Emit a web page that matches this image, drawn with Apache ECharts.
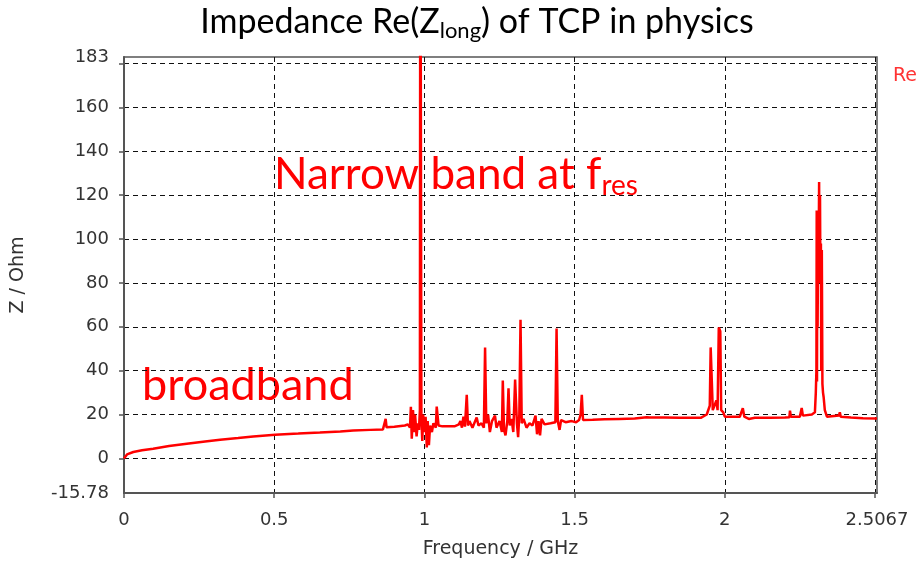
<!DOCTYPE html>
<html>
<head>
<meta charset="utf-8">
<title>Impedance Re(Zlong) of TCP in physics</title>
<script src="https://cdn.jsdelivr.net/npm/echarts@6.0.0/dist/echarts.min.js"></script>
<style>
  html, body { margin: 0; padding: 0; background: #fff; }
  #chart { width: 923px; height: 567px; }
</style>
</head>
<body>
<div id="chart"></div>
<script>
// ── Data ─────────────────────────────────────────────────────────────────────
// frequency in GHz, Re(Z) in Ohm
const freqGHz = [
  0, 0.01, 0.031, 0.06, 0.097, 0.15, 0.209, 0.27, 0.32, 0.38, 0.43, 0.503,
  0.58, 0.652, 0.72, 0.763, 0.82, 0.862, 0.868, 0.871, 0.874, 0.90, 0.935,
  0.945, 0.952, 0.955, 0.958, 0.962, 0.966, 0.969, 0.974, 0.978, 0.982,
  0.985, 0.9865, 0.9885, 0.990, 0.993, 0.996, 1.000, 1.004, 1.008, 1.011,
  1.015, 1.019, 1.025, 1.030, 1.038, 1.041, 1.045, 1.047, 1.06, 1.10,
  1.115, 1.12, 1.125, 1.13, 1.135, 1.141, 1.145, 1.15, 1.16, 1.174, 1.18,
  1.19, 1.198, 1.202, 1.206, 1.212, 1.218, 1.225, 1.235, 1.24, 1.25, 1.258,
  1.261, 1.265, 1.27, 1.276, 1.28, 1.284, 1.29, 1.296, 1.302, 1.308, 1.312,
  1.316, 1.32, 1.324, 1.33, 1.34, 1.35, 1.36, 1.37, 1.375, 1.38, 1.385,
  1.39, 1.40, 1.42, 1.436, 1.44, 1.444, 1.45, 1.455, 1.47, 1.49, 1.505,
  1.515, 1.52, 1.524, 1.528, 1.56, 1.60, 1.65, 1.70, 1.74, 1.745, 1.75,
  1.80, 1.85, 1.92, 1.94, 1.95, 1.953, 1.957, 1.96, 1.965, 1.972, 1.976,
  1.980, 1.985, 1.988, 1.995, 2.0, 2.02, 2.05, 2.06, 2.065, 2.08, 2.10,
  2.15, 2.20, 2.215, 2.217, 2.22, 2.25, 2.256, 2.26, 2.29, 2.30, 2.303,
  2.305, 2.306, 2.307, 2.308, 2.309, 2.311, 2.312, 2.314, 2.315, 2.317,
  2.318, 2.320, 2.321, 2.323, 2.325, 2.327,
  2.329, 2.333, 2.34, 2.38, 2.383, 2.386, 2.42, 2.46, 2.5067
];
const reZ = [
  0, 1.8, 2.9, 3.7, 4.4, 5.6, 6.7, 7.7, 8.5, 9.3, 10, 10.8,
  11.3, 11.8, 12.3, 12.7, 13.0, 13.2, 13.3, 18, 14.2, 14.4, 15,
  15.5, 14, 23.5, 9, 22, 12, 20, 10, 16, 13,
  22, 300, 300, 18, 8, 20, 12, 19, 5, 17,
  6, 15, 12, 16, 14, 23.6, 23, 15, 14.6, 14.6,
  15.5, 17, 14, 19, 14.5, 29, 15, 17, 14, 18.6, 15,
  16, 14, 50.6, 16, 20, 12, 17, 19.5, 14, 17, 12,
  35.5, 13, 10.5, 17, 32, 15, 18, 12, 36, 16, 9.7,
  20, 63.2, 16, 18, 14, 16, 15, 19.5, 11, 17, 10.5,
  18, 15.5, 16, 16.5, 59.2, 17, 13, 17.5, 16.5, 17, 16.5,
  17.5, 20, 29, 17.5, 17.6, 17.8, 18, 18.2, 18.8, 19.5, 18.6,
  18.6, 18.5, 18.5, 20, 24, 50.6, 50, 22, 21.8, 26.4, 22,
  59.7, 58, 22, 21, 19, 19, 19, 22.9, 19, 18, 18.5,
  18.5, 18.6, 18.7, 21.8, 19, 19, 23, 19.5, 20, 21, 30,
  40, 113, 35, 108, 60, 112, 85, 126, 80, 120,
  88, 98, 40, 95, 34, 30,
  28, 22, 19, 19.5, 21, 19, 18.6, 18.3, 18.2
];

const yLabelValues = [-15.78, 0, 20, 40, 60, 80, 100, 120, 140, 160, 183];
const yTickValues = [0, 20, 40, 60, 80, 100, 120, 140, 160, 180];
const xLabelValues = [0, 0.5, 1, 1.5, 2, 2.5067];
const xTickValues = [0, 0.5, 1, 1.5, 2, 2.5];

const chart = echarts.init(document.getElementById("chart"));

const axisFont = { fontFamily: "DejaVu Sans", fontSize: 18, color: "#333" };
const nameFont = { fontFamily: "DejaVu Sans", fontSize: 19, color: "#333" };
const gridDash = { color: "#111", width: 1, type: [5, 4] };

const option = {
  animation: false,
  backgroundColor: "#fff",
  grid: {
    left: 124, right: 46, top: 57, bottom: 74,
    show: true, borderColor: "#555", borderWidth: 1.5
  },
  xAxis: {
    type: "value",
    min: 0,
    max: 2.5067,
    name: "Frequency / GHz",
    nameLocation: "middle",
    nameGap: 47,
    nameTextStyle: nameFont,
    axisLine: { onZero: false, lineStyle: { color: "#555", width: 2 } },
    axisTick: { customValues: xTickValues, length: 5, lineStyle: { color: "#555", width: 1.5 } },
    axisLabel: Object.assign({ customValues: xLabelValues, margin: 18 }, axisFont),
    splitLine: { show: true, lineStyle: gridDash }
  },
  yAxis: {
    type: "value",
    min: -15.78,
    max: 183,
    name: "Z / Ohm",
    nameLocation: "middle",
    nameGap: 96,
    nameTextStyle: nameFont,
    axisLine: { show: true, onZero: false, lineStyle: { color: "#555", width: 2 } },
    axisTick: { show: true, customValues: yTickValues, length: 5, lineStyle: { color: "#555", width: 1.5 } },
    axisLabel: Object.assign({ customValues: yLabelValues, margin: 15 }, axisFont),
    splitLine: { show: true, lineStyle: gridDash }
  },
  series: [
    {
      name: "Re",
      type: "line",
      data: freqGHz.map((f, i) => [f, reZ[i]]),
      showSymbol: false,
      clip: true,
      lineStyle: { color: "#ff0000", width: 2.5 },
      itemStyle: { color: "#ff0000" }
    }
  ],
  graphic: [
    {
      type: "text",
      x: 477, y: 22,
      style: {
        text: "{a|Impedance Re(Z}{s|long}{a|) of TCP in physics}",
        align: "center",
        verticalAlign: "middle",
        rich: {
          a: { fontFamily: "Lato", fontSize: 34, lineHeight: 40, fill: "#000" },
          s: { fontFamily: "Lato", fontSize: 22, lineHeight: 10, verticalAlign: "bottom", fill: "#000" }
        }
      }
    },
    {
      type: "text",
      x: 274, y: 175,
      style: {
        text: "{a|Narrow band at f}{s|res}",
        align: "left",
        verticalAlign: "middle",
        rich: {
          a: { fontFamily: "Lato", fontSize: 44, lineHeight: 50, fill: "#ff0000" },
          s: { fontFamily: "Lato", fontSize: 28, lineHeight: 10, verticalAlign: "bottom", fill: "#ff0000" }
        }
      }
    },
    {
      type: "text",
      x: 142, y: 385,
      style: {
        text: "broadband",
        align: "left",
        verticalAlign: "middle",
        fontFamily: "Lato",
        fontSize: 45,
        fill: "#ff0000"
      }
    },
    {
      type: "text",
      x: 893, y: 76,
      style: {
        text: "Re",
        align: "left",
        verticalAlign: "middle",
        fontFamily: "DejaVu Sans",
        fontSize: 19,
        fill: "#ff3333"
      }
    }
  ]
};

chart.setOption(option);
window.addEventListener("resize", () => chart.resize());
</script>
</body>
</html>
